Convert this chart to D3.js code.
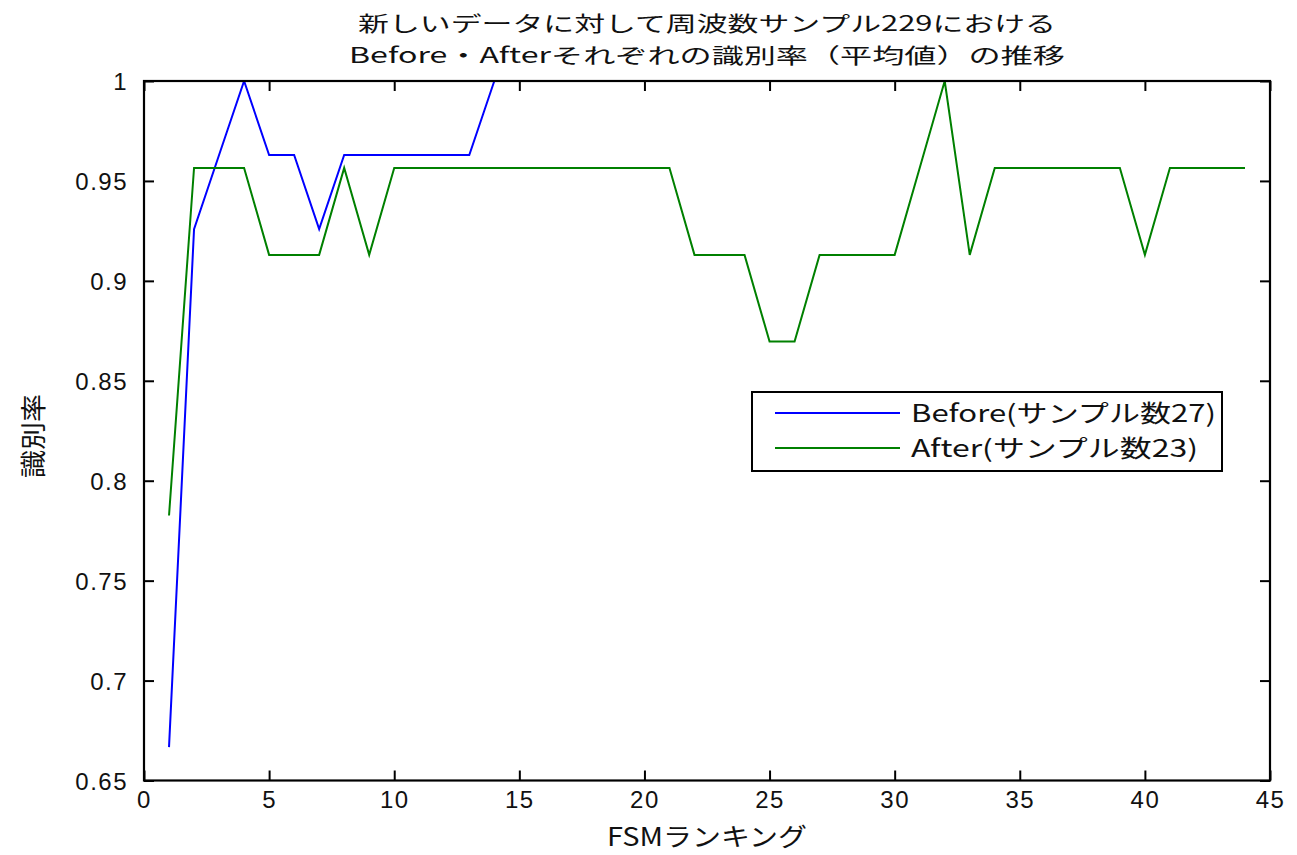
<!DOCTYPE html>
<html>
<head>
<meta charset="utf-8">
<script src="https://cdn.jsdelivr.net/npm/d3@7"></script>
<style>
  html, body { margin: 0; padding: 0; background: #fff; }
  svg { display: block; }
</style>
</head>
<body>
<svg id="chart" width="1297" height="855"></svg>
<script>
// ---- data ----
const titleLines = ["新しいデータに対して周波数サンプル229における", "Before・Afterそれぞれの識別率（平均値）の推移"];
const xLabel = "FSMランキング";
const yLabel = "識別率";
const seriesNames = ["Before(サンプル数27)", "After(サンプル数23)"];
const beforeRank = [1,2,3,4,5,6,7,8,9,10,11,12,13,14];
const beforeRate = [0.6667,0.9259,0.9630,1.0000,0.9630,0.9630,0.9259,0.9630,0.9630,0.9630,0.9630,0.9630,0.9630,1.0000];
const afterRank = [1,2,3,4,5,6,7,8,9,10,11,12,13,14,15,16,17,18,19,20,21,22,23,24,25,26,27,28,29,30,31,32,33,34,35,36,37,38,39,40,41,42,43,44];
const afterRate = [0.7826,0.9565,0.9565,0.9565,0.9130,0.9130,0.9130,0.9565,0.9130,0.9565,
                   0.9565,0.9565,0.9565,0.9565,0.9565,0.9565,0.9565,0.9565,0.9565,0.9565,
                   0.9565,0.9130,0.9130,0.9130,0.8696,0.8696,0.9130,0.9130,0.9130,0.9130,
                   0.9565,1.0000,0.9130,0.9565,0.9565,0.9565,0.9565,0.9565,0.9565,0.9130,
                   0.9565,0.9565,0.9565,0.9565];
const xTicks = [0,5,10,15,20,25,30,35,40,45];
const yTicks = [0.65,0.7,0.75,0.8,0.85,0.9,0.95,1];
const yTickLabels = ["0.65","0.7","0.75","0.8","0.85","0.9","0.95","1"];
const seriesColors = ["#0000ff", "#008000"];

// ---- layout ----
const L = 144, R = 1270, T = 81, B = 780.5;
const svg = d3.select("#chart");
const x = d3.scaleLinear().domain([0, 45]).range([L, R]);
const y = d3.scaleLinear().domain([0.65, 1]).range([B, T]);

const clipId = "plotclip";
svg.append("defs").append("clipPath").attr("id", clipId)
  .append("rect").attr("x", L).attr("y", T - 1).attr("width", R - L).attr("height", B - T + 2);

// lines
const line = d3.line().x(d => x(d[0])).y(d => y(d[1]));
const series = [
  { name: seriesNames[0], color: seriesColors[0], pts: beforeRank.map((r, i) => [r, beforeRate[i]]) },
  { name: seriesNames[1], color: seriesColors[1], pts: afterRank.map((r, i) => [r, afterRate[i]]) }
];
svg.append("g").attr("clip-path", `url(#${clipId})`)
  .selectAll("path").data(series).join("path")
  .attr("d", d => line(d.pts))
  .attr("fill", "none")
  .attr("stroke", d => d.color)
  .attr("stroke-width", 2);

// axes (ticks inside)
const tickFont = "'Liberation Sans', Arial, sans-serif";
const xAxis = d3.axisBottom(x).tickValues(xTicks).tickSizeInner(-10).tickSizeOuter(0).tickPadding(20);
const gx = svg.append("g").attr("transform", `translate(0,${B})`).call(xAxis);
const xAxisTop = d3.axisTop(x).tickValues(xTicks).tickSizeInner(-10).tickSizeOuter(0).tickFormat("");
const gxt = svg.append("g").attr("transform", `translate(0,${T})`).call(xAxisTop);
const yAxis = d3.axisLeft(y).tickValues(yTicks).tickSizeInner(-10).tickSizeOuter(0).tickPadding(16)
  .tickFormat((d, i) => yTickLabels[i]);
const gy = svg.append("g").attr("transform", `translate(${L},0)`).call(yAxis);
const yAxisR = d3.axisRight(y).tickValues(yTicks).tickSizeInner(-10).tickSizeOuter(0).tickFormat("");
const gyr = svg.append("g").attr("transform", `translate(${R},0)`).call(yAxisR);

[gx, gxt, gy, gyr].forEach(g => {
  g.select(".domain").remove();
  g.selectAll(".tick line").attr("stroke", "#000").attr("stroke-width", 2);
  g.selectAll("text").attr("fill", "#111").style("font-family", tickFont).style("font-size", "24px")
    .style("letter-spacing", "1.5px");
});
gx.selectAll("text").attr("dy", "0.72em").attr("y", 10);
gy.selectAll("text").attr("dy", "0.36em");

// frame
svg.append("rect").attr("x", L).attr("y", T).attr("width", R - L).attr("height", B - T)
  .attr("fill", "none").attr("stroke", "#000").attr("stroke-width", 2.2);

// title
const cjk = "'Noto Sans CJK JP', 'Noto Sans', sans-serif";
const titleY = [31, 63];
const titleW = [698, 716];
svg.selectAll("text.title").data(titleLines).join("text")
  .attr("class", "title")
  .attr("x", (L + R) / 2)
  .attr("y", (d, i) => titleY[i])
  .attr("text-anchor", "middle")
  .attr("textLength", (d, i) => titleW[i])
  .attr("lengthAdjust", "spacingAndGlyphs")
  .style("font-family", cjk).style("font-size", "21px").attr("fill", "#111")
  .text(d => d);

// axis labels
svg.append("text").attr("x", (L + R) / 2).attr("y", 846).attr("text-anchor", "middle")
  .attr("textLength", 200).attr("lengthAdjust", "spacingAndGlyphs")
  .style("font-family", cjk).style("font-size", "25px").attr("fill", "#111").text(xLabel);
svg.append("text").attr("transform", "translate(43,436) rotate(-90)").attr("text-anchor", "middle")
  .attr("textLength", 84).attr("lengthAdjust", "spacingAndGlyphs")
  .style("font-family", cjk).style("font-size", "26px").attr("fill", "#111").text(yLabel);

// legend
const lg = svg.append("g");
lg.append("rect").attr("x", 752).attr("y", 392).attr("width", 470).attr("height", 79)
  .attr("fill", "#fff").attr("stroke", "#000").attr("stroke-width", 2);
const legY = [413, 448];
const legW = [305, 287];
series.forEach((s, i) => {
  lg.append("line").attr("x1", 775).attr("x2", 900).attr("y1", legY[i]).attr("y2", legY[i])
    .attr("stroke", s.color).attr("stroke-width", 2);
  lg.append("text").attr("x", 911).attr("y", legY[i] + 9)
    .attr("textLength", legW[i]).attr("lengthAdjust", "spacingAndGlyphs")
    .style("font-family", cjk).style("font-size", "24px").attr("fill", "#111").text(s.name);
});
</script>
</body>
</html>
